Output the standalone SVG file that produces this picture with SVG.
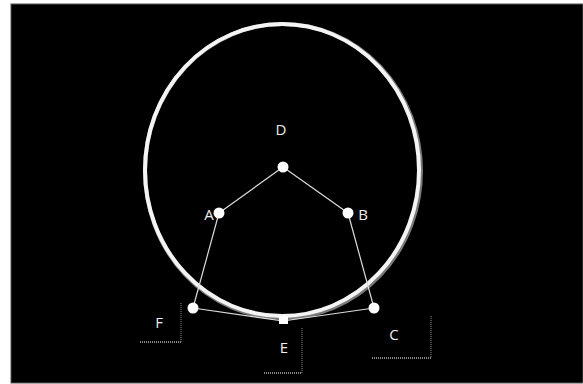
<svg xmlns="http://www.w3.org/2000/svg" width="583" height="384" viewBox="0 0 583 384">
<style>
.lbl{font-family:"Open Sans","DejaVu Sans",sans-serif;font-size:15px;fill:#ececec;text-anchor:middle}
.edge{stroke:#dcdcdc;stroke-width:1.2;fill:none}
.dot{fill:#ffffff}
.brk{stroke:#8a8a8a;fill:none;stroke-dasharray:1 1}
</style>
<rect x="0" y="0" width="583" height="384" fill="#ffffff"/>
<rect x="11" y="4" width="572" height="379" fill="#000000" stroke="#555" stroke-width="1"/>
<g id="ring">
<ellipse cx="283" cy="171" rx="138" ry="147" fill="none" stroke="#7a7a7a" stroke-width="4"/>
<ellipse cx="282" cy="170" rx="137" ry="146" fill="none" stroke="#f4f4f4" stroke-width="4"/>
</g>
<g id="connectors">
<line class="edge" x1="283" y1="167" x2="219" y2="213"/>
<line class="edge" x1="283" y1="167" x2="348" y2="213"/>
<line class="edge" x1="219" y1="213" x2="193" y2="308"/>
<line class="edge" x1="348" y1="213" x2="374" y2="308"/>
<line class="edge" x1="193" y1="308" x2="283" y2="321"/>
<line class="edge" x1="283" y1="321" x2="374" y2="308"/>
</g>
<g id="brackets">
<path class="brk" d="M181 303 V342" stroke-width="1"/>
<path class="brk" d="M140 342 H181" stroke-width="2"/>
<path class="brk" d="M302 328 V373" stroke-width="1"/>
<path class="brk" d="M264 373 H302" stroke-width="2"/>
<path class="brk" d="M431 316 V358" stroke-width="1"/>
<path class="brk" d="M372 358 H431" stroke-width="2"/>
</g>
<g id="node-D"><circle class="dot" cx="283" cy="167" r="5.5"/><text class="lbl" x="281" y="135">D</text></g>
<g id="node-A"><circle class="dot" cx="219" cy="213" r="5.5"/><text class="lbl" x="209" y="220">A</text></g>
<g id="node-B"><circle class="dot" cx="348" cy="213" r="5.5"/><text class="lbl" x="363" y="220">B</text></g>
<g id="node-F"><circle class="dot" cx="193" cy="308" r="5.5"/><text class="lbl" x="159" y="328">F</text></g>
<g id="node-C"><circle class="dot" cx="374" cy="308" r="5.5"/><text class="lbl" x="394" y="340">C</text></g>
<g id="node-E"><rect class="dot" x="279" y="316" width="9" height="8"/><text class="lbl" x="284" y="353">E</text></g>
</svg>
